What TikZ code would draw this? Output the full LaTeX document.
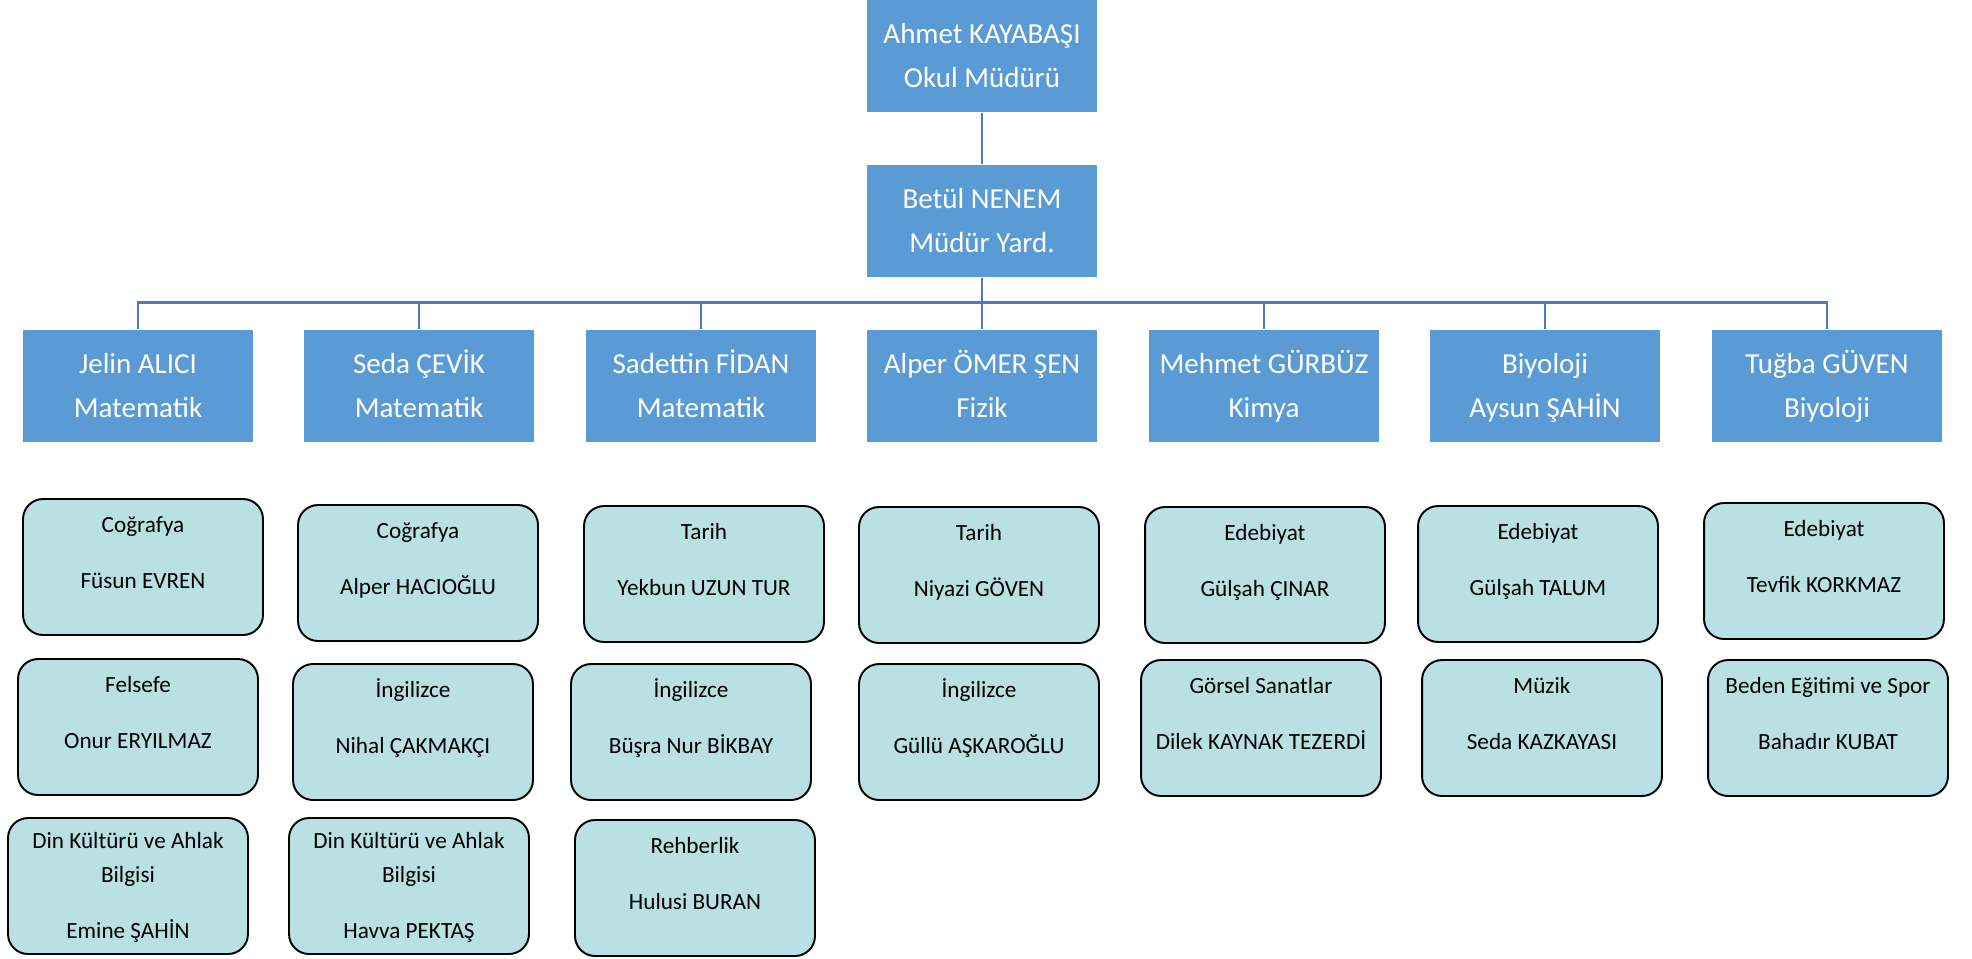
\documentclass[tikz,border=0pt]{standalone}
\usepackage{fontspec}
\setmainfont{Carlito}
\usetikzlibrary{positioning}
\definecolor{deptblue}{HTML}{5B9BD5}
\definecolor{staffteal}{HTML}{B9E0E3}
\definecolor{linkblue}{HTML}{4A7EBB}
\tikzset{headbox/.style={rectangle,draw=none,fill=deptblue,text=white,
inner sep=2pt,minimum height=2.25cm, minimum width=4.6cm,align=center,
font=\fontsize{16.5}{25}\selectfont,text height=10.6pt+0.88cm,text depth=0pt}}
\tikzset{staffbox/.style={rectangle,rounded corners=0.4cm,draw=black,line width=1.1pt,fill=staffteal,
inner sep=2pt,minimum height=2.72cm, minimum width=4.8cm,align=center,
font=\fontsize{13.2}{19.3}\selectfont,text height=8.5pt+1.12cm,text depth=0.56cm}}
\tikzset{staffboxtall/.style={staffbox,text height=8.5pt+1.8cm,text depth=0pt}}
\tikzset{orgline/.style={draw=linkblue,line width=1.5pt}}

\begin{document}
\begin{tikzpicture}[x=0.02cm,y=-0.02cm]
        \useasboundingbox (0,0) rectangle (1972,958);

        \node[headbox] (boxHead) at (982, 56) {Ahmet KAYABAŞI\\Okul Müdürü};
        \node[headbox] (boxYard) at (982, 221) {Betül NENEM\\Müdür Yard.};

        \node[headbox] (boxA) at (138, 386) {Jelin ALICI\\Matematik};
        \node[headbox] (boxB) at (419, 386) {Seda ÇEVİK\\Matematik};
        \node[headbox] (boxC) at (701, 386) {Sadettin FİDAN\\Matematik};
        \node[headbox] (boxD) at (982, 386) {Alper ÖMER ŞEN\\Fizik};
        \node[headbox] (boxE) at (1264, 386) {Mehmet GÜRBÜZ\\Kimya};
        \node[headbox] (boxF) at (1545, 386) {Biyoloji\\Aysun ŞAHİN};
        \node[headbox] (boxG) at (1827, 386) {Tuğba GÜVEN\\Biyoloji};

        \node[staffbox] (boxA1) at (143, 567) {Coğrafya\\[12.5pt]Füsun EVREN};
        \node[staffbox] (boxA2) at (138, 727) {Felsefe\\[12.5pt]Onur ERYILMAZ};
        \node[staffboxtall] (boxA3) at (128, 886) {Din Kültürü ve Ahlak\\Bilgisi\\[12.5pt]Emine ŞAHİN};

        \node[staffbox] (boxB1) at (418, 573) {Coğrafya\\[12.5pt]Alper HACIOĞLU};
        \node[staffbox] (boxB2) at (413, 732) {İngilizce\\[12.5pt]Nihal ÇAKMAKÇI};
        \node[staffboxtall] (boxB3) at (409, 886) {Din Kültürü ve Ahlak\\Bilgisi\\[12.5pt]Havva PEKTAŞ};

        \node[staffbox] (boxC1) at (704, 574) {Tarih\\[12.5pt]Yekbun UZUN TUR};
        \node[staffbox] (boxC2) at (691, 732) {İngilizce\\[12.5pt]Büşra Nur BİKBAY};
        \node[staffbox] (boxC3) at (695, 888) {Rehberlik\\[12.5pt]Hulusi BURAN};

        \node[staffbox] (boxD1) at (979, 575) {Tarih\\[12.5pt]Niyazi GÖVEN};
        \node[staffbox] (boxD2) at (979, 732) {İngilizce\\[12.5pt]Güllü AŞKAROĞLU};

        \node[staffbox] (boxE1) at (1265, 575) {Edebiyat\\[12.5pt]Gülşah ÇINAR};
        \node[staffbox] (boxE2) at (1261, 728) {Görsel Sanatlar\\[12.5pt]Dilek KAYNAK TEZERDİ};

        \node[staffbox] (boxF1) at (1538, 574) {Edebiyat\\[12.5pt]Gülşah TALUM};
        \node[staffbox] (boxF2) at (1542, 728) {Müzik\\[12.5pt]Seda KAZKAYASI};

        \node[staffbox] (boxG1) at (1824, 571) {Edebiyat\\[12.5pt]Tevfik KORKMAZ};
        \node[staffbox] (boxG2) at (1828, 728) {Beden Eğitimi ve Spor\\[12.5pt]Bahadır KUBAT};

        \draw[orgline] (boxHead) -- (boxYard);
        \draw[orgline] (boxYard.south) -- ++(0,25) -| (boxA.north);
        \draw[orgline] (boxYard.south) -- ++(0,25) -| (boxB.north);
        \draw[orgline] (boxYard.south) -- ++(0,25) -| (boxC.north);
        \draw[orgline] (boxYard.south) -- (boxD.north);
        \draw[orgline] (boxYard.south) -- ++(0,25) -| (boxE.north);
        \draw[orgline] (boxYard.south) -- ++(0,25) -| (boxF.north);
        \draw[orgline] (boxYard.south) -- ++(0,25) -| (boxG.north);

    \end{tikzpicture}
\end{document}
